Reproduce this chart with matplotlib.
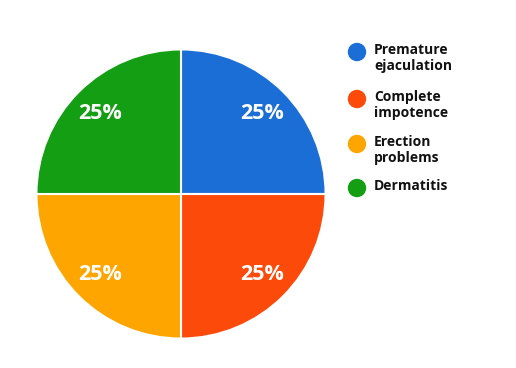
import matplotlib.pyplot as plt
from matplotlib.patches import Ellipse

labels = ['Premature\nejaculation', 'Complete\nimpotence', 'Erection\nproblems', 'Dermatitis']
values = [25, 25, 25, 25]
colors = ['#1A6ED6', '#FC4A0A', '#FFA500', '#139E13']

plt.rcParams['font.family'] = ['Open Sans', 'DejaVu Sans']

fig = plt.figure(figsize=(5.16, 3.68), dpi=100)
W, H = 516, 368
cx, cy, r = 181, 194, 146
ax = fig.add_axes([(cx - r) / W, (H - cy - r) / H, 2 * r / W, 2 * r / H])

wedges, texts, autotexts = ax.pie(values, colors=colors, startangle=90, counterclock=False,
                                  autopct='%d%%', pctdistance=0.79,
                                  wedgeprops=dict(edgecolor='white', linewidth=1.5))
for t in autotexts:
    t.set_color('white')
    t.set_fontsize(15.5)
    t.set_fontweight('bold')
ax.set_xlim(-1.01, 1.01)
ax.set_ylim(-1.01, 1.01)
ax.set_aspect('equal')
ax.axis('off')

# legend drawn by hand so the dot sits beside the first line
ys = [52, 99, 144, 188]
for lab, col, y in zip(labels, colors, ys):
    fig.patches.append(Ellipse((357 / W, 1 - y / H), 17 / W, 17 / H,
                               transform=fig.transFigure, color=col))
    fig.text(374 / W, 1 - (y - 9) / H, lab, fontsize=10, fontweight='bold',
             color='#111111', va='top', ha='left', linespacing=1.2)

fig.savefig('out.png', dpi=100, facecolor='white')
